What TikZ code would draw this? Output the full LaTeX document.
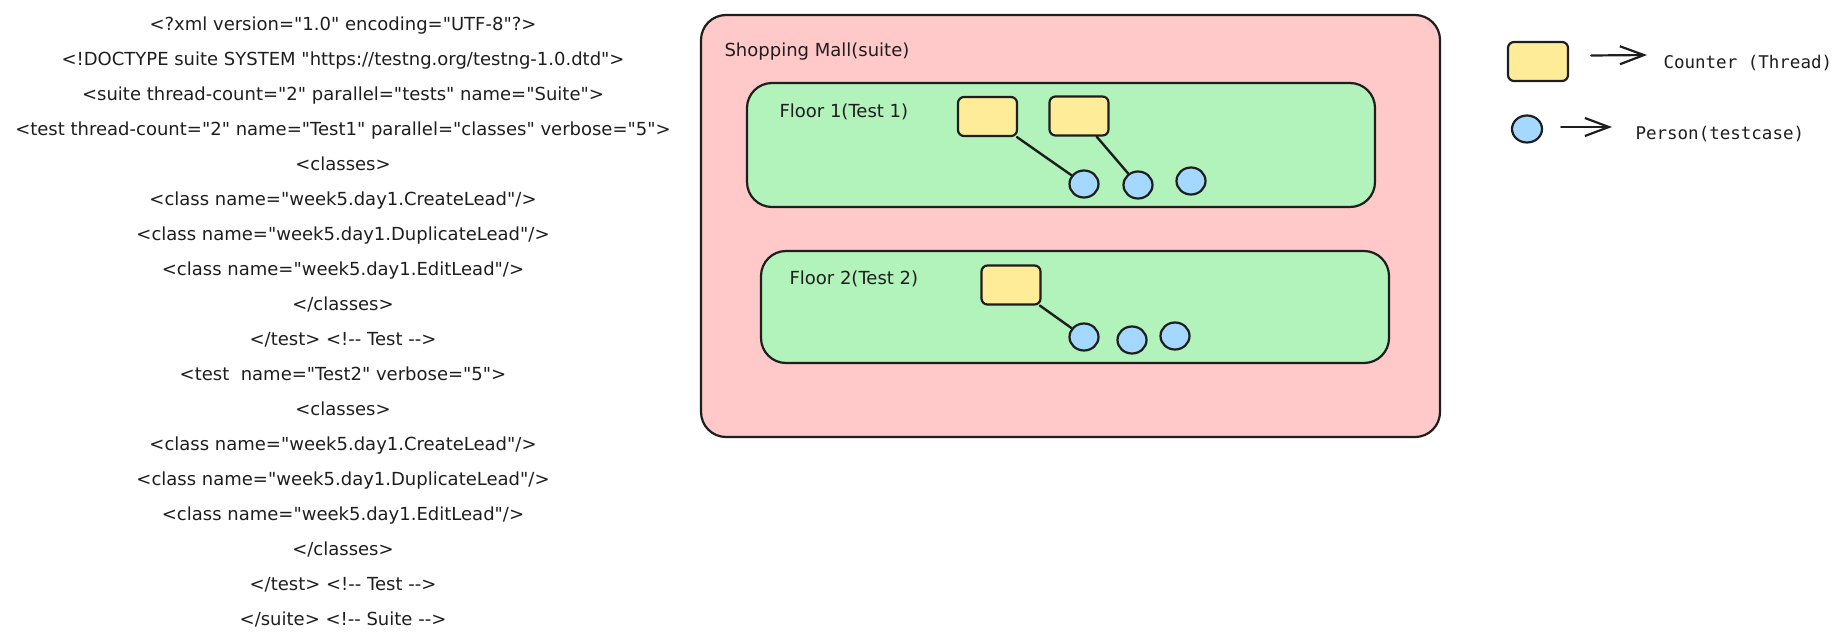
\documentclass[tikz,border=0pt]{standalone}
\usepackage{fontspec}
\setmainfont{DejaVu Sans}[Ligatures=TeXOff]
\newfontfamily\legendfont{DejaVu Sans Mono}[Ligatures=TeXOff]
\usepackage{tikz}
\usetikzlibrary{positioning}
\usetikzlibrary{arrows.meta}
\usetikzlibrary{shapes.geometric}
\definecolor{ink}{HTML}{1E1E1E}
\definecolor{mallpink}{HTML}{FFC9C9}
\definecolor{floorgreen}{HTML}{B2F2BB}
\definecolor{counteryellow}{HTML}{FFEC99}
\definecolor{personblue}{HTML}{A5D8FF}

\begin{document}
\begin{tikzpicture}[
		x=1pt, y=-1pt,
		every node/.style = {
			font=\fontsize{18}{35}\selectfont,
			text=ink
		},
		xmltext/.style = {
			align=center
		},
		mall/.style = {
			draw=ink, fill=mallpink, line width=2.2pt,
			rounded corners=25pt
		},
		floor/.style = {
			draw=ink, fill=floorgreen, line width=2.2pt,
			rounded corners=25pt
		},
		counter/.style = {
			draw=ink, fill=counteryellow, line width=2.2pt,
			rounded corners=6pt, minimum width=59pt, minimum height=39pt
		},
		person/.style = {
			shape=ellipse, draw=ink, fill=personblue, line width=2.2pt,
			minimum width=29pt, minimum height=27pt, inner sep=0pt
		},
		walk/.style = {
			draw=ink, line width=2.4pt, line cap=round
		},
		legarrow/.style = {
			draw=ink, line width=2.2pt, line cap=round,
			-{Straight Barb[length=24pt, width=18pt, line width=2.2pt]}
		},
		legtext/.style = {
			anchor=west,
			font=\legendfont\fontsize{17.5}{20}\selectfont
		}
		]
		\useasboundingbox (0,0) rectangle (1843,640);

		% testng.xml
		\node[xmltext] (xml) at (343,322) {%
			<?xml version="1.0" encoding="UTF-8"?> \\
			<!DOCTYPE suite SYSTEM "https://testng.org/testng-1.0.dtd"> \\
			<suite thread-count="2" parallel="tests" name="Suite"> \\
			<test thread-count="2" name="Test1" parallel="classes" verbose="5"> \\
			<classes> \\
			<class name="week5.day1.CreateLead"/> \\
			<class name="week5.day1.DuplicateLead"/> \\
			<class name="week5.day1.EditLead"/> \\
			</classes> \\
			</test> <!-- Test --> \\
			<test\ \ name="Test2" verbose="5"> \\
			<classes> \\
			<class name="week5.day1.CreateLead"/> \\
			<class name="week5.day1.DuplicateLead"/> \\
			<class name="week5.day1.EditLead"/> \\
			</classes> \\
			</test> <!-- Test --> \\
			</suite> <!-- Suite -->};

		% mall and floors
		\node[mall, minimum width=739pt, minimum height=422pt] (suite) at (1070.5,226) {};
		\node[anchor=west] (suitelbl) at (721,52) {Shopping Mall(suite)};

		\node[floor, minimum width=628pt, minimum height=124pt] (floor1) at (1061,145) {};
		\node[anchor=west] (floor1lbl) at (776,112) {Floor 1(Test 1)};
		\node[floor, minimum width=628pt, minimum height=112pt] (floor2) at (1075,307) {};
		\node[anchor=west] (floor2lbl) at (786,279) {Floor 2(Test 2)};

		% counters and persons
		\node[counter] (c11) at (987.5,116.5) {};
		\node[counter] (c12) at (1079,116) {};
		\node[person] (p11) at (1084,184) {};
		\node[person] (p12) at (1138,185) {};
		\node[person] (p13) at (1191,181) {};
		\draw[walk] (c11) -- (p11);
		\draw[walk] (c12) -- (p12);

		\node[counter] (c21) at (1011,285) {};
		\node[person] (p21) at (1084,337) {};
		\node[person] (p22) at (1132,340) {};
		\node[person] (p23) at (1175,336) {};
		\draw[walk] (c21) -- (p21);

		% legend
		\node[counter, minimum width=60pt] (keyc) at (1538,61.5) {};
		\node[legtext] (keyctxt) at (1660,63) {Counter (Thread)};
		\draw[legarrow] ([xshift=22pt, yshift=6pt]keyc.east) -- ([xshift=-13pt, yshift=8pt]keyctxt.west);
		\node[person, minimum width=30pt] (keyp) at (1527,129) {};
		\node[legtext] (keyptxt) at (1632,134) {Person(testcase)};
		\draw[legarrow] ([xshift=18pt, yshift=2pt]keyp.east) -- ([xshift=-20pt, yshift=7pt]keyptxt.west);
	\end{tikzpicture}
\end{document}
